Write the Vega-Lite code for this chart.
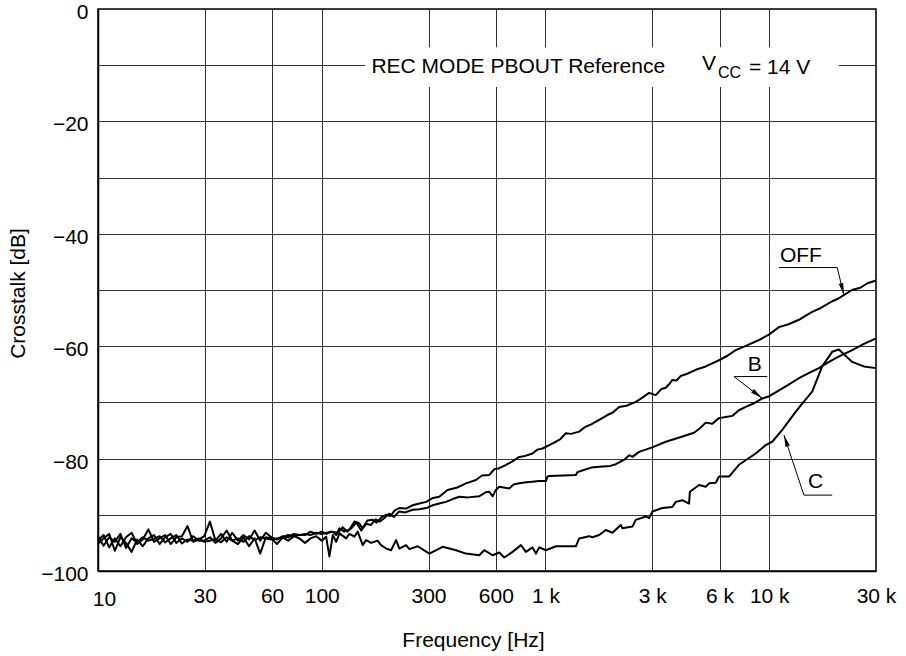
{
  "$schema": "https://vega.github.io/schema/vega-lite/v6.json",
  "width": 778,
  "height": 562,
  "autosize": "none",
  "padding": {"left": 98, "top": 9, "right": 30, "bottom": 85},
  "background": "white",
  "config": {
    "font": "Liberation Sans",
    "view": {"stroke": "#000", "strokeWidth": 1.5},
    "axis": {
      "labelFont": "Liberation Sans",
      "titleFont": "Liberation Sans",
      "labelFontSize": 21,
      "titleFontSize": 21,
      "titleFontWeight": "normal",
      "labelColor": "#000",
      "titleColor": "#000",
      "gridColor": "#333",
      "gridWidth": 1,
      "gridOpacity": 1,
      "domainColor": "#000",
      "domainWidth": 1.5,
      "ticks": false,
      "labelOverlap": false,
      "labelFlush": false,
      "labelBound": false
    }
  },
  "datasets": {
    "curves": [
      {"s":"OFF","f":10,"db":-93.8},{"s":"OFF","f":10.59,"db":-95.5},{"s":"OFF","f":11.22,"db":-94.0},{"s":"OFF","f":11.89,"db":-94.8},{"s":"OFF","f":12.59,"db":-93.4},{"s":"OFF","f":13.34,"db":-95.9},{"s":"OFF","f":14.13,"db":-94.2},{"s":"OFF","f":14.96,"db":-94.9},{"s":"OFF","f":15.85,"db":-94.0},{"s":"OFF","f":16.79,"db":-94.6},{"s":"OFF","f":17.78,"db":-94.3},{"s":"OFF","f":18.84,"db":-93.8},{"s":"OFF","f":19.95,"db":-94.9},{"s":"OFF","f":21.13,"db":-94.2},{"s":"OFF","f":22.39,"db":-93.6},{"s":"OFF","f":23.71,"db":-95.1},{"s":"OFF","f":25.12,"db":-94.4},{"s":"OFF","f":26.61,"db":-94.6},{"s":"OFF","f":28.18,"db":-94.2},{"s":"OFF","f":29.85,"db":-94.8},{"s":"OFF","f":31.62,"db":-94.6},{"s":"OFF","f":33.5,"db":-94.3},{"s":"OFF","f":35.48,"db":-94.9},{"s":"OFF","f":37.58,"db":-94.0},{"s":"OFF","f":39.81,"db":-94.6},{"s":"OFF","f":42.17,"db":-94.2},{"s":"OFF","f":44.67,"db":-94.8},{"s":"OFF","f":47.32,"db":-93.8},{"s":"OFF","f":50.12,"db":-94.5},{"s":"OFF","f":53.09,"db":-94.0},{"s":"OFF","f":56.23,"db":-94.2},{"s":"OFF","f":59.57,"db":-94.4},{"s":"OFF","f":63.1,"db":-94.2},{"s":"OFF","f":66.83,"db":-94.0},{"s":"OFF","f":70.79,"db":-93.6},{"s":"OFF","f":74.99,"db":-93.8},{"s":"OFF","f":79.43,"db":-93.6},{"s":"OFF","f":84.14,"db":-93.4},{"s":"OFF","f":89.13,"db":-93.6},{"s":"OFF","f":94.41,"db":-93.2},{"s":"OFF","f":100,"db":-93.4},
      {"s":"OFF","f":105,"db":-93.2},{"s":"OFF","f":112,"db":-93.0},{"s":"OFF","f":116,"db":-93.6},{"s":"OFF","f":120,"db":-92.4},{"s":"OFF","f":126,"db":-93.0},{"s":"OFF","f":133,"db":-92.6},{"s":"OFF","f":140,"db":-91.2},{"s":"OFF","f":147,"db":-91.5},{"s":"OFF","f":152,"db":-92.4},{"s":"OFF","f":160,"db":-91.0},{"s":"OFF","f":169,"db":-90.9},{"s":"OFF","f":176,"db":-91.4},{"s":"OFF","f":185,"db":-90.4},{"s":"OFF","f":194,"db":-90.0},{"s":"OFF","f":203,"db":-90.2},{"s":"OFF","f":212,"db":-89.2},{"s":"OFF","f":222,"db":-88.8},{"s":"OFF","f":238,"db":-88.9},{"s":"OFF","f":255,"db":-88.3},{"s":"OFF","f":273,"db":-88.0},{"s":"OFF","f":293,"db":-87.7},{"s":"OFF","f":314,"db":-87.0},{"s":"OFF","f":335,"db":-86.8},{"s":"OFF","f":365,"db":-85.6},{"s":"OFF","f":400,"db":-85.2},{"s":"OFF","f":441,"db":-84.4},{"s":"OFF","f":489,"db":-83.8},{"s":"OFF","f":520,"db":-83.0},{"s":"OFF","f":561,"db":-82.9},{"s":"OFF","f":590,"db":-81.9},{"s":"OFF","f":621,"db":-81.7},{"s":"OFF","f":660,"db":-81.2},{"s":"OFF","f":712,"db":-80.5},{"s":"OFF","f":763,"db":-79.7},{"s":"OFF","f":800,"db":-79.6},{"s":"OFF","f":875,"db":-79.1},{"s":"OFF","f":920,"db":-78.4},{"s":"OFF","f":970,"db":-78.2},{"s":"OFF","f":1040,"db":-77.6},{"s":"OFF","f":1113,"db":-77.0},{"s":"OFF","f":1160,"db":-76.6},{"s":"OFF","f":1233,"db":-75.5},{"s":"OFF","f":1300,"db":-75.6},{"s":"OFF","f":1414,"db":-75.2},{"s":"OFF","f":1500,"db":-74.4},{"s":"OFF","f":1600,"db":-73.9},{"s":"OFF","f":1737,"db":-73.1},{"s":"OFF","f":1900,"db":-72.2},{"s":"OFF","f":2000,"db":-71.8},{"s":"OFF","f":2133,"db":-70.8},{"s":"OFF","f":2300,"db":-70.6},{"s":"OFF","f":2532,"db":-69.9},{"s":"OFF","f":2700,"db":-69.2},{"s":"OFF","f":2903,"db":-68.3},{"s":"OFF","f":3111,"db":-68.7},{"s":"OFF","f":3300,"db":-67.6},{"s":"OFF","f":3448,"db":-67.4},{"s":"OFF","f":3600,"db":-66.6},{"s":"OFF","f":3690,"db":-66.0},{"s":"OFF","f":3850,"db":-66.1},{"s":"OFF","f":4022,"db":-65.3},{"s":"OFF","f":4300,"db":-64.9},{"s":"OFF","f":4692,"db":-64.2},{"s":"OFF","f":5200,"db":-63.6},{"s":"OFF","f":5963,"db":-62.5},{"s":"OFF","f":6500,"db":-61.7},{"s":"OFF","f":7079,"db":-60.7},{"s":"OFF","f":8000,"db":-59.8},{"s":"OFF","f":8995,"db":-58.9},{"s":"OFF","f":10000,"db":-57.9},{"s":"OFF","f":11050,"db":-56.6},{"s":"OFF","f":12200,"db":-56.1},{"s":"OFF","f":13570,"db":-55.3},{"s":"OFF","f":14500,"db":-54.6},{"s":"OFF","f":15560,"db":-53.9},{"s":"OFF","f":17000,"db":-53.2},{"s":"OFF","f":19110,"db":-52.0},{"s":"OFF","f":20200,"db":-51.6},{"s":"OFF","f":21550,"db":-50.9},{"s":"OFF","f":23400,"db":-50.0},{"s":"OFF","f":25500,"db":-49.6},{"s":"OFF","f":27500,"db":-48.8},{"s":"OFF","f":30000,"db":-48.3},

      {"s":"B","f":10,"db":-94.6},{"s":"B","f":10.59,"db":-93.6},{"s":"B","f":11.22,"db":-95.8},{"s":"B","f":11.89,"db":-94.2},{"s":"B","f":12.59,"db":-95.6},{"s":"B","f":13.34,"db":-94.0},{"s":"B","f":14.13,"db":-93.2},{"s":"B","f":14.96,"db":-95.2},{"s":"B","f":15.85,"db":-94.4},{"s":"B","f":16.79,"db":-92.6},{"s":"B","f":17.78,"db":-94.8},{"s":"B","f":18.84,"db":-94.2},{"s":"B","f":19.95,"db":-93.6},{"s":"B","f":21.13,"db":-95.2},{"s":"B","f":22.39,"db":-94.0},{"s":"B","f":23.71,"db":-93.8},{"s":"B","f":25.12,"db":-92.0},{"s":"B","f":26.61,"db":-94.8},{"s":"B","f":28.18,"db":-94.4},{"s":"B","f":29.85,"db":-93.8},{"s":"B","f":31.62,"db":-91.2},{"s":"B","f":33.5,"db":-94.6},{"s":"B","f":35.48,"db":-93.4},{"s":"B","f":37.58,"db":-94.8},{"s":"B","f":39.81,"db":-93.2},{"s":"B","f":42.17,"db":-94.6},{"s":"B","f":44.67,"db":-93.6},{"s":"B","f":47.32,"db":-94.4},{"s":"B","f":50.12,"db":-92.8},{"s":"B","f":53.09,"db":-94.6},{"s":"B","f":56.23,"db":-93.2},{"s":"B","f":59.57,"db":-94.0},{"s":"B","f":63.1,"db":-94.4},{"s":"B","f":66.83,"db":-93.8},{"s":"B","f":70.79,"db":-94.0},{"s":"B","f":74.99,"db":-93.4},{"s":"B","f":79.43,"db":-93.6},{"s":"B","f":84.14,"db":-93.6},{"s":"B","f":89.13,"db":-93.0},{"s":"B","f":94.41,"db":-93.4},{"s":"B","f":100,"db":-93.0},
      {"s":"B","f":105,"db":-93.4},{"s":"B","f":110,"db":-93.0},{"s":"B","f":118,"db":-93.2},{"s":"B","f":124,"db":-92.2},{"s":"B","f":130,"db":-93.0},{"s":"B","f":137,"db":-92.2},{"s":"B","f":143,"db":-91.4},{"s":"B","f":150,"db":-92.8},{"s":"B","f":158,"db":-91.6},{"s":"B","f":166,"db":-91.8},{"s":"B","f":174,"db":-90.8},{"s":"B","f":182,"db":-91.2},{"s":"B","f":190,"db":-90.6},{"s":"B","f":200,"db":-89.8},{"s":"B","f":210,"db":-90.4},{"s":"B","f":222,"db":-89.4},{"s":"B","f":235,"db":-89.6},{"s":"B","f":255,"db":-89.1},{"s":"B","f":273,"db":-89.0},{"s":"B","f":293,"db":-88.8},{"s":"B","f":313,"db":-88.3},{"s":"B","f":335,"db":-88.0},{"s":"B","f":359,"db":-87.7},{"s":"B","f":385,"db":-87.2},{"s":"B","f":412,"db":-86.8},{"s":"B","f":450,"db":-86.9},{"s":"B","f":506,"db":-86.7},{"s":"B","f":540,"db":-86.0},{"s":"B","f":561,"db":-85.9},{"s":"B","f":580,"db":-86.7},{"s":"B","f":600,"db":-85.6},{"s":"B","f":621,"db":-85.0},{"s":"B","f":660,"db":-85.2},{"s":"B","f":689,"db":-85.3},{"s":"B","f":720,"db":-84.6},{"s":"B","f":763,"db":-84.4},{"s":"B","f":820,"db":-84.2},{"s":"B","f":875,"db":-84.1},{"s":"B","f":930,"db":-84.0},{"s":"B","f":1004,"db":-84.0},{"s":"B","f":1020,"db":-83.2},{"s":"B","f":1039,"db":-83.1},{"s":"B","f":1200,"db":-83.0},{"s":"B","f":1367,"db":-82.9},{"s":"B","f":1390,"db":-82.4},{"s":"B","f":1414,"db":-82.3},{"s":"B","f":1600,"db":-81.6},{"s":"B","f":1797,"db":-81.4},{"s":"B","f":1950,"db":-81.3},{"s":"B","f":2063,"db":-81.0},{"s":"B","f":2250,"db":-80.2},{"s":"B","f":2364,"db":-79.4},{"s":"B","f":2446,"db":-79.7},{"s":"B","f":2620,"db":-78.8},{"s":"B","f":3000,"db":-78.0},{"s":"B","f":3448,"db":-77.0},{"s":"B","f":4000,"db":-76.2},{"s":"B","f":4611,"db":-75.4},{"s":"B","f":4900,"db":-74.6},{"s":"B","f":5201,"db":-73.6},{"s":"B","f":5566,"db":-73.8},{"s":"B","f":5963,"db":-72.8},{"s":"B","f":6400,"db":-72.6},{"s":"B","f":6836,"db":-72.4},{"s":"B","f":7322,"db":-71.4},{"s":"B","f":7847,"db":-70.8},{"s":"B","f":8500,"db":-70.2},{"s":"B","f":9307,"db":-69.3},{"s":"B","f":10000,"db":-68.9},{"s":"B","f":10680,"db":-68.2},{"s":"B","f":12000,"db":-67.0},{"s":"B","f":13570,"db":-65.7},{"s":"B","f":15000,"db":-64.8},{"s":"B","f":16670,"db":-63.9},{"s":"B","f":18500,"db":-62.8},{"s":"B","f":20500,"db":-61.8},{"s":"B","f":23480,"db":-60.7},{"s":"B","f":26500,"db":-59.6},{"s":"B","f":30000,"db":-58.6},

      {"s":"C","f":10,"db":-95.2},{"s":"C","f":10.59,"db":-94.2},{"s":"C","f":11.22,"db":-93.4},{"s":"C","f":11.89,"db":-96.4},{"s":"C","f":12.59,"db":-94.0},{"s":"C","f":13.34,"db":-95.0},{"s":"C","f":14.13,"db":-96.6},{"s":"C","f":14.96,"db":-94.4},{"s":"C","f":15.85,"db":-95.6},{"s":"C","f":16.79,"db":-94.2},{"s":"C","f":17.78,"db":-93.6},{"s":"C","f":18.84,"db":-95.2},{"s":"C","f":19.95,"db":-94.0},{"s":"C","f":21.13,"db":-93.4},{"s":"C","f":22.39,"db":-95.0},{"s":"C","f":23.71,"db":-94.2},{"s":"C","f":25.12,"db":-94.8},{"s":"C","f":26.61,"db":-93.8},{"s":"C","f":28.18,"db":-94.6},{"s":"C","f":29.85,"db":-94.6},{"s":"C","f":31.62,"db":-94.0},{"s":"C","f":33.5,"db":-95.0},{"s":"C","f":35.48,"db":-94.2},{"s":"C","f":37.58,"db":-92.8},{"s":"C","f":39.81,"db":-94.6},{"s":"C","f":42.17,"db":-95.2},{"s":"C","f":44.67,"db":-94.0},{"s":"C","f":47.32,"db":-95.6},{"s":"C","f":50.12,"db":-94.2},{"s":"C","f":53.09,"db":-96.9},{"s":"C","f":56.23,"db":-94.0},{"s":"C","f":59.57,"db":-94.2},{"s":"C","f":63.1,"db":-95.2},{"s":"C","f":66.83,"db":-94.0},{"s":"C","f":70.79,"db":-94.6},{"s":"C","f":74.99,"db":-93.8},{"s":"C","f":79.43,"db":-94.2},{"s":"C","f":84.14,"db":-95.0},{"s":"C","f":89.13,"db":-94.2},{"s":"C","f":94.41,"db":-93.8},{"s":"C","f":100,"db":-94.6},
      {"s":"C","f":104.6,"db":-93.9},{"s":"C","f":108.2,"db":-97.4},{"s":"C","f":112,"db":-93.6},{"s":"C","f":116,"db":-94.8},{"s":"C","f":120,"db":-93.3},{"s":"C","f":128.5,"db":-94.2},{"s":"C","f":132.9,"db":-93.4},{"s":"C","f":140,"db":-93.9},{"s":"C","f":144.8,"db":-93.0},{"s":"C","f":152.4,"db":-95.4},{"s":"C","f":157.9,"db":-94.5},{"s":"C","f":166.2,"db":-95.0},{"s":"C","f":177.8,"db":-94.6},{"s":"C","f":184.1,"db":-95.4},{"s":"C","f":193.9,"db":-96.0},{"s":"C","f":204.1,"db":-96.3},{"s":"C","f":214.9,"db":-94.5},{"s":"C","f":222.3,"db":-96.0},{"s":"C","f":238.2,"db":-95.4},{"s":"C","f":246.4,"db":-96.1},{"s":"C","f":268.4,"db":-95.6},{"s":"C","f":302.6,"db":-96.9},{"s":"C","f":347,"db":-95.7},{"s":"C","f":398.1,"db":-96.3},{"s":"C","f":441.1,"db":-96.9},{"s":"C","f":505.8,"db":-97.2},{"s":"C","f":532.5,"db":-96.3},{"s":"C","f":580,"db":-97.2},{"s":"C","f":621.4,"db":-96.7},{"s":"C","f":654,"db":-97.6},{"s":"C","f":712.4,"db":-96.6},{"s":"C","f":776.6,"db":-95.4},{"s":"C","f":817.5,"db":-96.6},{"s":"C","f":875,"db":-95.8},{"s":"C","f":906.3,"db":-96.9},{"s":"C","f":937.4,"db":-95.8},{"s":"C","f":1004,"db":-96.3},{"s":"C","f":1113,"db":-95.6},{"s":"C","f":1367,"db":-95.6},{"s":"C","f":1414,"db":-94.2},{"s":"C","f":1567,"db":-93.8},{"s":"C","f":1622,"db":-94.0},{"s":"C","f":1737,"db":-93.6},{"s":"C","f":1861,"db":-92.7},{"s":"C","f":1991,"db":-93.2},{"s":"C","f":2171,"db":-91.8},{"s":"C","f":2207,"db":-92.4},{"s":"C","f":2446,"db":-92.1},{"s":"C","f":2532,"db":-90.9},{"s":"C","f":2807,"db":-90.3},{"s":"C","f":2903,"db":-90.6},{"s":"C","f":3005,"db":-89.4},{"s":"C","f":3330,"db":-88.8},{"s":"C","f":3690,"db":-88.6},{"s":"C","f":3821,"db":-87.7},{"s":"C","f":4089,"db":-87.4},{"s":"C","f":4381,"db":-88.0},{"s":"C","f":4420,"db":-85.9},{"s":"C","f":4857,"db":-84.7},{"s":"C","f":5201,"db":-85.0},{"s":"C","f":5381,"db":-84.4},{"s":"C","f":5765,"db":-84.3},{"s":"C","f":5963,"db":-83.2},{"s":"C","f":6610,"db":-83.2},{"s":"C","f":7322,"db":-81.1},{"s":"C","f":8698,"db":-79.1},{"s":"C","f":9636,"db":-77.6},{"s":"C","f":10310,"db":-77.0},{"s":"C","f":11430,"db":-74.9},{"s":"C","f":13120,"db":-71.7},{"s":"C","f":14040,"db":-70.2},{"s":"C","f":15560,"db":-68.1},{"s":"C","f":17240,"db":-63.6},{"s":"C","f":19110,"db":-61.0},{"s":"C","f":20470,"db":-60.6},{"s":"C","f":23480,"db":-62.8},{"s":"C","f":26480,"db":-63.6},{"s":"C","f":30000,"db":-63.9}
    ],
    "leaders": [
      {"g":"OFF","o":1,"f":11050,"db":-46.0},{"g":"OFF","o":2,"f":20120,"db":-46.0},{"g":"OFF","o":3,"f":21550,"db":-50.9},
      {"g":"B","o":1,"f":9797,"db":-65.4},{"g":"B","o":2,"f":6957,"db":-65.4},{"g":"B","o":3,"f":9307,"db":-69.3},
      {"g":"C","o":1,"f":19110,"db":-86.5},{"g":"C","o":2,"f":14290,"db":-86.5},{"g":"C","o":3,"f":11630,"db":-75.8}
    ],
    "arrows": [
      {"g":"OFF","f":21240,"db":-49.86},
      {"g":"B","f":8857,"db":-68.6},
      {"g":"C","f":11860,"db":-76.8}
    ],
    "labels": [
      {"t":"OFF","f":13850,"db":-45.0},
      {"t":"B","f":8617,"db":-64.5},
      {"t":"C","f":16110,"db":-85.3}
    ],
    "box": [{"f":156.7,"f2":20470,"db":-6.8,"db2":-13.9}],
    "note": [
      {"t":"REC MODE PBOUT Reference","f":166.7,"db":-11.45,"k":"main"},
      {"t":"V","f":5008,"db":-10.94,"k":"main"},
      {"t":"CC","f":5902,"db":-12.28,"k":"sub"},
      {"t":"= 14 V","f":8120,"db":-11.48,"k":"main"}
    ]
  },
  "layer": [
    {
      "data": {"name": "box"},
      "mark": {"type": "rect", "fill": "white", "stroke": null},
      "encoding": {
        "x": {"field": "f", "type": "quantitative"},
        "x2": {"field": "f2"},
        "y": {"field": "db", "type": "quantitative"},
        "y2": {"field": "db2"}
      }
    },
    {
      "data": {"name": "curves"},
      "mark": {"type": "line", "color": "#000", "strokeWidth": 2, "strokeJoin": "round"},
      "encoding": {
        "x": {
          "field": "f", "type": "quantitative",
          "scale": {"type": "log", "domain": [10, 30000], "nice": false},
          "axis": {
            "title": "Frequency [Hz]",
            "values": [10, 30, 60, 100, 300, 600, 1000, 3000, 6000, 10000, 30000],
            "labelExpr": "datum.value >= 1000 ? format(datum.value / 1000, 'd') + ' k' : format(datum.value, 'd')",
            "labelPadding": {"condition": {"test": "datum.value === 10", "value": 17}, "value": 14},
            "labelOffset": {"condition": {"test": "datum.value === 10", "value": 6}, "value": 0},
            "titleX": 375,
            "titleY": 75,
            "titleBaseline": "alphabetic",
            "titleAnchor": null,
            "titleAlign": "center"
          }
        },
        "y": {
          "field": "db", "type": "quantitative",
          "scale": {"domain": [-100, 0], "nice": false},
          "axis": {
            "title": "Crosstalk [dB]",
            "values": [-100, -90, -80, -70, -60, -50, -40, -30, -20, -10, 0],
            "labelExpr": "datum.value % 20 === 0 ? format(datum.value, 'd') : ''",
            "labelPadding": 10,
            "labelOffset": 3.5,
            "titleAngle": -90,
            "titleX": -74,
            "titleY": 284,
            "titleBaseline": "alphabetic",
            "titleAlign": "center"
          }
        },
        "detail": {"field": "s"}
      }
    },
    {
      "data": {"name": "leaders"},
      "mark": {"type": "line", "color": "#000", "strokeWidth": 1},
      "encoding": {
        "x": {"field": "f", "type": "quantitative"},
        "y": {"field": "db", "type": "quantitative"},
        "detail": {"field": "g"},
        "order": {"field": "o"}
      }
    },
    {
      "data": {"name": "arrows"},
      "transform": [{"filter": "datum.g === 'OFF'"}],
      "mark": {"type": "point", "shape": "M0,-1L0.38,1L-0.38,1Z", "filled": true, "color": "#000", "opacity": 1, "size": 144, "angle": 166},
      "encoding": {
        "x": {"field": "f", "type": "quantitative"},
        "y": {"field": "db", "type": "quantitative"}
      }
    },
    {
      "data": {"name": "arrows"},
      "transform": [{"filter": "datum.g === 'B'"}],
      "mark": {"type": "point", "shape": "M0,-1L0.38,1L-0.38,1Z", "filled": true, "color": "#000", "opacity": 1, "size": 144, "angle": 127},
      "encoding": {
        "x": {"field": "f", "type": "quantitative"},
        "y": {"field": "db", "type": "quantitative"}
      }
    },
    {
      "data": {"name": "arrows"},
      "transform": [{"filter": "datum.g === 'C'"}],
      "mark": {"type": "point", "shape": "M0,-1L0.38,1L-0.38,1Z", "filled": true, "color": "#000", "opacity": 1, "size": 144, "angle": 342},
      "encoding": {
        "x": {"field": "f", "type": "quantitative"},
        "y": {"field": "db", "type": "quantitative"}
      }
    },
    {
      "data": {"name": "labels"},
      "mark": {"type": "text", "font": "Liberation Sans", "fontSize": 21, "align": "center", "baseline": "alphabetic", "color": "#000"},
      "encoding": {
        "x": {"field": "f", "type": "quantitative"},
        "y": {"field": "db", "type": "quantitative"},
        "text": {"field": "t"}
      }
    },
    {
      "data": {"name": "note"},
      "transform": [{"filter": "datum.k === 'main'"}],
      "mark": {"type": "text", "font": "Liberation Sans", "fontSize": 21, "align": "left", "baseline": "alphabetic", "color": "#000"},
      "encoding": {
        "x": {"field": "f", "type": "quantitative"},
        "y": {"field": "db", "type": "quantitative"},
        "text": {"field": "t"}
      }
    },
    {
      "data": {"name": "note"},
      "transform": [{"filter": "datum.k === 'sub'"}],
      "mark": {"type": "text", "font": "Liberation Sans", "fontSize": 16, "align": "left", "baseline": "alphabetic", "color": "#000"},
      "encoding": {
        "x": {"field": "f", "type": "quantitative"},
        "y": {"field": "db", "type": "quantitative"},
        "text": {"field": "t"}
      }
    }
  ]
}
